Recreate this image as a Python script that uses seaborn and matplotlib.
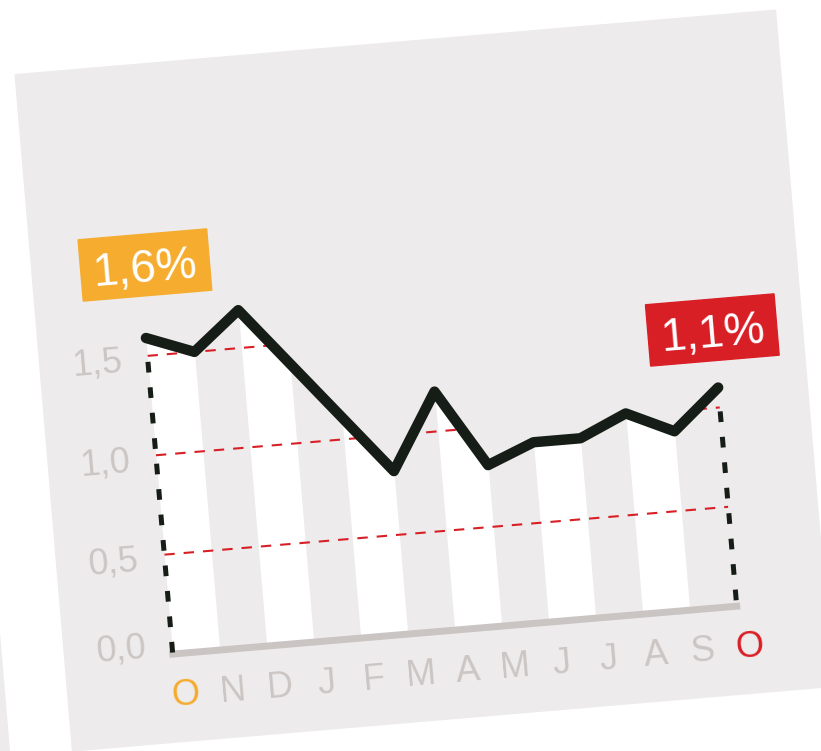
import matplotlib
matplotlib.use("Agg")
import matplotlib.pyplot as plt
from matplotlib.patches import Rectangle, Polygon
from matplotlib.transforms import Affine2D, IdentityTransform
import numpy as np
import pandas as pd
import seaborn as sns

# data
months = ["O", "N", "D", "J", "F", "M", "A", "M", "J", "J", "A", "S", "O"]
rate = [1.59, 1.50, 1.69, 1.40, 1.11, 0.82, 1.20, 0.81, 0.905, 0.905, 1.01, 0.90, 1.10]
y_ticks = [0.0, 0.5, 1.0, 1.5]
y_tick_labels = ["0,0", "0,5", "1,0", "1,5"]
first_label = "1,6%"
last_label = "1,1%"

ORANGE = "#f5ac2f"
RED = "#d91f26"
GRAY_TXT = "#cbc6c4"
PANEL = "#edebec"
DARK = "#161d17"

sns.set_style("white")
plt.rcParams["font.family"] = ["Liberation Sans", "DejaVu Sans"]

W, H = 821, 751
fig = plt.figure(figsize=(W / 100, H / 100), dpi=100)
ax = fig.add_axes([0, 0, 1, 1])
ax.set_axis_off()

# whole graphic is tilted a few degrees counter-clockwise
ANG = 4.85
rot = Affine2D().rotate_deg_around(410, 376, ANG)
T = ax.transData + rot
P = IdentityTransform() + rot

df = pd.DataFrame({"i": range(len(months)), "month": months, "rate": rate})
last = len(months) - 1

# background panel (and the edge of the neighbouring one)
ax.add_patch(Rectangle((42, 30), 805 - 42, 708.6 - 30, transform=P, color=PANEL, zorder=0))
ax.add_patch(Rectangle((-400, -300), 379, 480, transform=P, color=PANEL, zorder=0))

# white stripes under the curve, every other month
for i in range(0, last, 2):
    part = df.iloc[i:i + 2]
    coll = ax.fill_between(part["i"], 0, part["rate"], color="white", lw=0, zorder=1)
    coll.set_transform(T)

# red dashed grid, only visible below the curve
area = Polygon(np.column_stack([np.r_[df["i"], last, 0], np.r_[df["rate"], 0, 0]]),
               closed=True, transform=T)
for v in y_ticks[1:]:
    ln, = ax.plot([0, last], [v, v], color=RED, lw=1.5, ls=(0, (5, 4.3)), zorder=2)
    ln.set_transform(T)
    ln.set_clip_path(area)

# base line
bl, = ax.plot([0, last], [0, 0], color="#cac5c3", lw=5, solid_capstyle="projecting", zorder=3)
bl.set_transform(T)

# dashed drop lines at both ends
for i in (0, last):
    dl, = ax.plot([i, i], [rate[i] - 0.12, 0], color=DARK, lw=3.6,
                  ls=(0, (2.14, 2.97)), dash_capstyle="butt", zorder=4)
    dl.set_transform(T)

sns.lineplot(data=df, x="i", y="rate", ax=ax, color=DARK, lw=7.5, zorder=5)
main = ax.lines[-1]
main.set_transform(T)
main.set_solid_joinstyle("round")
main.set_solid_capstyle("round")

# value boxes
bw, bh = 129 / 47.17, 61.5 / 199.5
for cx, cy, txt, col in [(0.11, rate[0] + 0.365, first_label, ORANGE),
                         (last - 0.02, rate[-1] + 0.29, last_label, RED)]:
    ax.add_patch(Rectangle((cx - bw / 2, cy - bh / 2), bw, bh, transform=T, color=col, zorder=6))
    ax.text(cx, cy, txt, transform=T, rotation=ANG, rotation_mode="anchor",
            ha="center", va="center_baseline", fontsize=33, color="white", zorder=7)

# y tick labels
for v, s in zip(y_ticks, y_tick_labels):
    ax.text(-0.55, v + (0.06 if v == 0 else 0), s, transform=T, rotation=ANG,
            rotation_mode="anchor", ha="right", va="center_baseline",
            fontsize=26, color=GRAY_TXT, zorder=7)

# month labels
for i, m in enumerate(months):
    col = ORANGE if i == 0 else RED if i == last else GRAY_TXT
    ax.text(i + 0.2, -0.193, m, transform=T, rotation=ANG, rotation_mode="anchor",
            ha="center", va="center_baseline", fontsize=26, color=col, zorder=7)

# unrotated layout: month 0 at x=150px, month 12 at 716px, value 0 at y=118px
x0, dx = 150, (716 - 150) / 12
y0, dy = 118, 199.5
ax.set_xlim(-x0 / dx, (W - x0) / dx)
ax.set_ylim(-y0 / dy, (H - y0) / dy)

fig.savefig("out.png", dpi=100)
